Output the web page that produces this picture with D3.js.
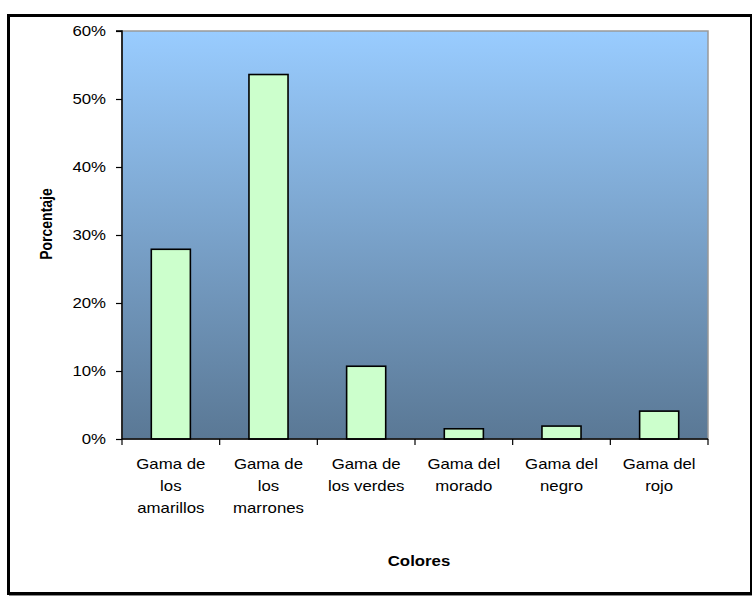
<!DOCTYPE html>
<html>
<head>
<meta charset="utf-8">
<script src="https://cdn.jsdelivr.net/npm/d3@7"></script>
<style>
  html, body { margin: 0; padding: 0; background: #fff; }
  svg { display: block; font-family: Arial, "Liberation Sans", sans-serif; }
</style>
</head>
<body>
<svg id="chart" width="752" height="598"></svg>
<script>
// Color families and their share of responses (%)
const categories = [
  ["Gama de", "los", "amarillos"],
  ["Gama de", "los", "marrones"],
  ["Gama de", "los verdes"],
  ["Gama del", "morado"],
  ["Gama del", "negro"],
  ["Gama del", "rojo"]
];
const values = [27.9, 53.6, 10.7, 1.5, 1.9, 4.1];
const yTicks = [0, 10, 20, 30, 40, 50, 60];

const svg = d3.select("#chart");
const plot = { left: 122, top: 31, right: 708, bottom: 439 };
const FS = 14;      // text size
const SX = 1.2;     // horizontal widening of the lettering

// Outer frame with a soft drop shadow
svg.append("rect").attr("x", 9).attr("y", 16).attr("width", 745).attr("height", 580).attr("fill", "#888");
svg.append("rect").attr("x", 8.5).attr("y", 15.5).attr("width", 743).attr("height", 578)
  .attr("fill", "#fff").attr("stroke", "#000").attr("stroke-width", 3);

// Plot background gradient
const defs = svg.append("defs");
const grad = defs.append("linearGradient").attr("id", "bg").attr("x1", 0).attr("y1", 0).attr("x2", 0).attr("y2", 1);
grad.append("stop").attr("offset", "0%").attr("stop-color", "#99ccff");
grad.append("stop").attr("offset", "100%").attr("stop-color", "#5a7895");

const x = d3.scaleBand().domain(d3.range(categories.length)).range([plot.left, plot.right]).paddingInner(0).paddingOuter(0);
const y = d3.scaleLinear().domain([0, 60]).range([plot.bottom, plot.top]);

svg.append("rect")
  .attr("x", plot.left).attr("y", plot.top)
  .attr("width", plot.right - plot.left).attr("height", plot.bottom - plot.top)
  .attr("fill", "url(#bg)").attr("stroke", "#999").attr("stroke-width", 1.5);

// Bars: 40% of each category slot
const barW = x.bandwidth() * 0.4;
svg.append("g").selectAll("rect").data(values).join("rect")
  .attr("x", (d, i) => x(i) + (x.bandwidth() - barW) / 2)
  .attr("y", d => y(d))
  .attr("width", barW)
  .attr("height", d => y(0) - y(d))
  .attr("fill", "#ccffcc")
  .attr("stroke", "#000")
  .attr("stroke-width", 1.6);

// Y axis
const yAxis = d3.axisLeft(y).tickValues(yTicks).tickFormat(d => d + "%").tickSize(6).tickPadding(10);
const gy = svg.append("g").attr("transform", `translate(${plot.left},0)`).call(yAxis);
gy.select(".domain").attr("stroke", "#000").attr("stroke-width", 1.5).attr("d", `M-6,${plot.top}H0V${plot.bottom}`);
gy.selectAll(".tick line").attr("stroke", "#000").attr("stroke-width", 1.2);
gy.selectAll(".tick text")
  .attr("font-size", FS).attr("fill", "#000")
  .attr("font-family", "Arial, 'Liberation Sans', sans-serif")
  .attr("x", -16 / SX)
  .attr("transform", `scale(${SX},1)`);

// X axis with ticks between categories
const xg = svg.append("g");
xg.append("line").attr("x1", plot.left).attr("x2", plot.right).attr("y1", plot.bottom).attr("y2", plot.bottom)
  .attr("stroke", "#000").attr("stroke-width", 1.5);
xg.selectAll("line.tk").data(d3.range(categories.length + 1)).join("line").attr("class", "tk")
  .attr("x1", i => plot.left + i * x.bandwidth()).attr("x2", i => plot.left + i * x.bandwidth())
  .attr("y1", plot.bottom).attr("y2", plot.bottom + 6)
  .attr("stroke", "#000").attr("stroke-width", 1.2);

xg.selectAll("text").data(categories).join("text")
  .attr("text-anchor", "middle")
  .attr("font-size", FS)
  .attr("fill", "#000")
  .attr("transform", (d, i) => `translate(${x(i) + x.bandwidth() / 2},0) scale(${SX},1)`)
  .each(function(lines) {
    d3.select(this).selectAll("tspan").data(lines).join("tspan")
      .attr("x", 0)
      .attr("y", (d, k) => 469 + k * 22)
      .text(d => d);
  });

// Axis titles
svg.append("text").attr("transform", `translate(419,566) scale(${SX},1)`).attr("text-anchor", "middle")
  .attr("font-size", FS).attr("font-weight", "bold").text("Colores");
svg.append("text").attr("transform", `translate(52,224) scale(${SX},1) rotate(-90)`).attr("text-anchor", "middle")
  .attr("font-size", FS).attr("font-weight", "bold").text("Porcentaje");
</script>
</body>
</html>
